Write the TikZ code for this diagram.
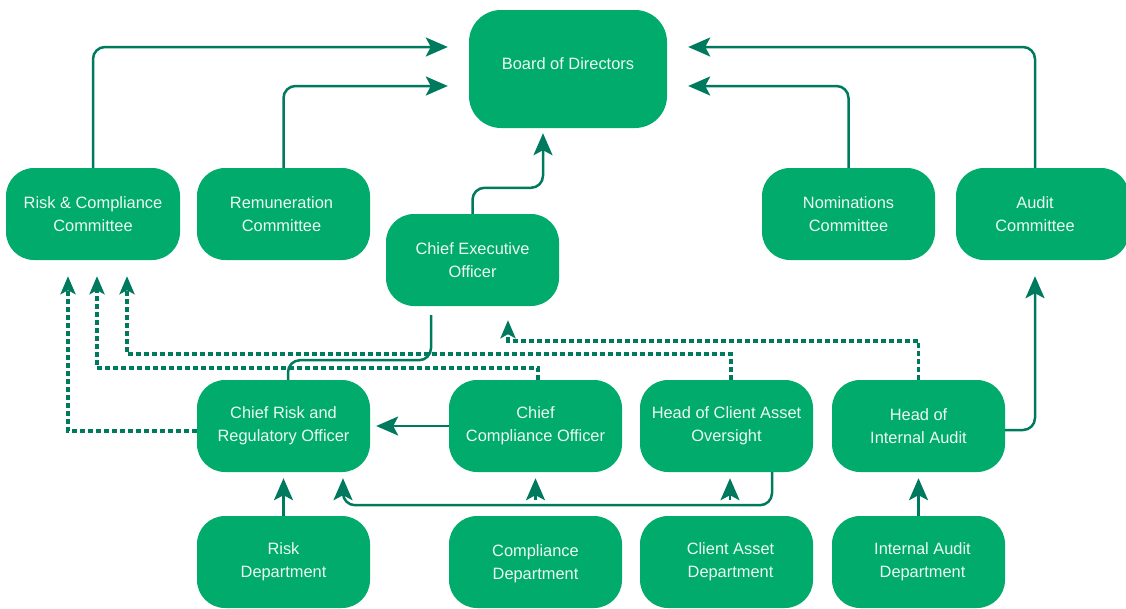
\documentclass[tikz,border=0pt]{standalone}
\usepackage{fontspec}
\setmainfont{Liberation Sans}
\usetikzlibrary{arrows.meta,calc}
\definecolor{boxg}{RGB}{0,171,108}
\definecolor{lineg}{RGB}{0,122,94}
\definecolor{txtc}{RGB}{236,250,242}
\begin{document}
\begin{tikzpicture}[x=1pt,y=-1pt,
  box/.style={fill=boxg, rounded corners=28pt, minimum width=173pt, minimum height=92pt,
    inner sep=0pt, text=txtc, font=\fontsize{16.4}{23}\selectfont, align=center},
  conn/.style={draw=lineg, line width=2.5pt, rounded corners=12pt,
    -{Stealth[length=22pt,width=19pt,inset=5pt]}},
  plainconn/.style={draw=lineg, line width=2.5pt, rounded corners=12pt},
  dconn/.style={draw=lineg, line width=3.5pt, dash pattern=on 5pt off 3pt,
    -{Stealth[length=18pt,width=15pt,inset=4pt]}}]
\useasboundingbox (0,0) rectangle (1126,608);
\clip (0,0) rectangle (1126,608);

% nodes
\node[box, minimum width=198pt, minimum height=118pt, rounded corners=32pt] (board) at (568,69)
  {\raisebox{5pt}[\height][\depth]{Board of Directors}};
\node[box, minimum width=174pt] (rcc) at (93,214) {Risk \& Compliance\\Committee};
\node[box] (rem) at (283.5,214) {\hspace*{-2pt}Remuneration\hspace*{2pt}\\\hspace*{-2pt}Committee\hspace*{2pt}};
\node[box] (ceo) at (472.5,260) {Chief Executive\\Officer};
\node[box] (nom) at (848.5,214) {Nominations\\Committee};
\node[box] (aud) at (1042.5,214)
  {\hspace*{-7.5pt}Audit\hspace*{7.5pt}\\\hspace*{-7.5pt}Committee\hspace*{7.5pt}};
\node[box] (crro) at (283.5,426) {Chief Risk and\\Regulatory Officer};
\node[box] (cco) at (535.5,426) {Chief\\Compliance Officer};
\node[box] (hcao) at (726.5,426) {Head of Client Asset\\Oversight};
\node[box] (hia) at (918.5,426) {Head of\\Internal Audit};
\node[box] (rdep) at (283.5,562) {Risk\\Department};
\node[box] (cdep) at (535.5,562) {\raisebox{-2pt}[\height][\depth]{Compliance}\\\raisebox{-2pt}[\height][\depth]{Department}};
\node[box] (cadep) at (726.5,562) {\hspace*{4pt}Client Asset\hspace*{-4pt}\\\hspace*{4pt}Department\hspace*{-4pt}};
\node[box] (iadep) at (918.5,562) {\hspace*{4pt}Internal Audit\hspace*{-4pt}\\\hspace*{4pt}Department\hspace*{-4pt}};

% committees to board
\draw[conn, shorten >=21pt] (rcc.north) |- ([yshift=22pt]board.west);
\draw[conn, shorten >=21pt] (rem.north) |- ([yshift=-17pt]board.west);
\draw[conn, shorten >=21pt] (nom.north) |- ([yshift=-17pt]board.east);
\draw[conn, shorten >=21pt] ([xshift=-7.5pt]aud.north) |- ([yshift=22pt]board.east);
\draw[conn, shorten >=5pt] (ceo.north) -- ++(0,-26) -| ([xshift=-25pt]board.south);

% CEO to CRRO
\draw[plainconn, shorten <=9pt] ([xshift=-41.5pt]ceo.south) -- ++(0,54) -| ([xshift=4.5pt]crro.north);

% dashed reporting lines
\draw[dconn, shorten >=16pt] ([yshift=-5pt]crro.west) -| ([xshift=-25pt]rcc.south);
\draw[dconn, shorten >=16pt] ([xshift=2.5pt]cco.north) -- ++(0,-12) -| ([xshift=4pt]rcc.south);
\draw[dconn, shorten >=16pt] ([xshift=4.5pt]hcao.north) -- ++(0,-26) -| ([xshift=34pt]rcc.south);
\draw[dconn, shorten >=14pt] (hia.north) -- ++(0,-39) -| ([xshift=35.5pt]ceo.south);

% head of internal audit to audit committee
\draw[conn, shorten >=16pt] ([yshift=-4pt]hia.east) -| ([xshift=-7.5pt]aud.south);

% compliance officer to CRRO
\draw[conn, shorten >=6pt] (cco.west) -- (crro.east);

% departments
\draw[conn, shorten >=6pt] (rdep.north) -- (crro.south);
\draw[conn, shorten >=6pt] (iadep.north) -- (hia.south);
\draw[conn, shorten >=6pt] ([xshift=45.5pt]hcao.south) -- ++(0,33) -| ([xshift=59.5pt]crro.south);
\draw[conn, shorten >=6pt] ([yshift=-28pt]cco.south) -- (cco.south);
\draw[conn, shorten >=6pt] ([xshift=3.5pt,yshift=-28pt]hcao.south) -- ([xshift=3.5pt]hcao.south);
\end{tikzpicture}
\end{document}
